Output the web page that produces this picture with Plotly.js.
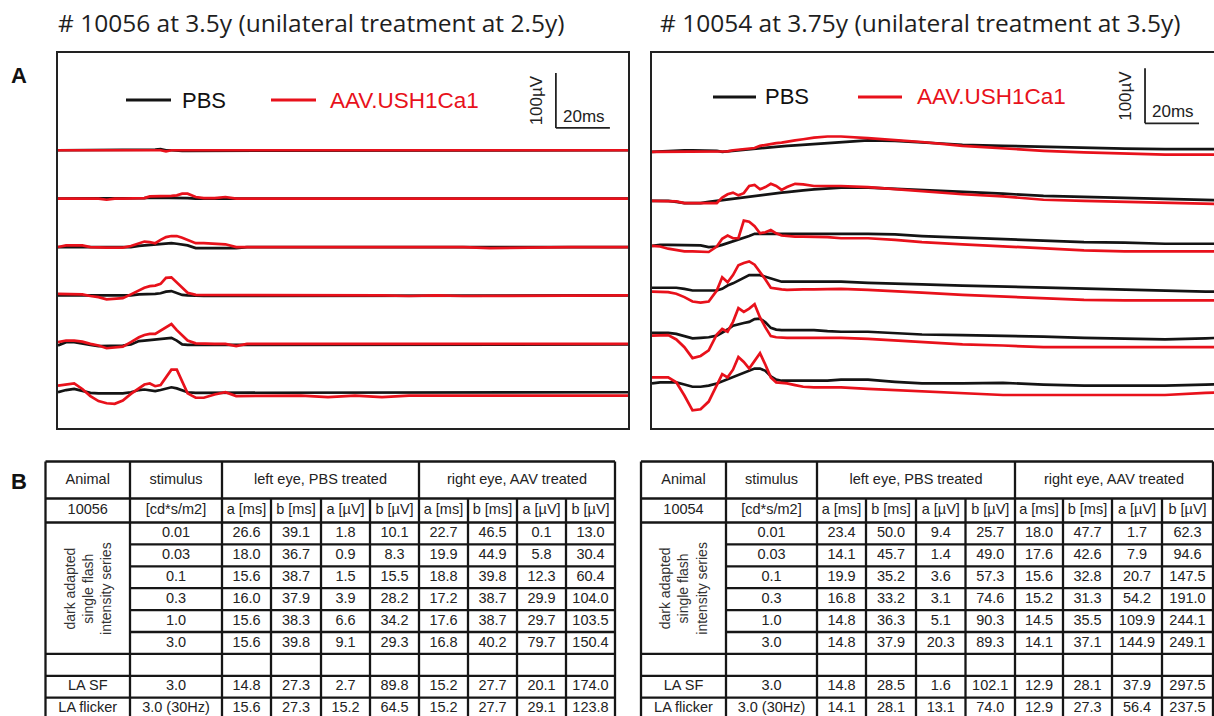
<!DOCTYPE html>
<html><head><meta charset="utf-8">
<script src="https://cdn.plot.ly/plotly-3.0.1.min.js"></script>
<style>html,body{margin:0;padding:0;background:#fff;}#chart{width:1214px;height:716px;}</style>
</head><body><div id="chart"></div>
<script>
// ================= DATA =================
// Time bases (ms after flash)
const tLeft  = [0,3,6,9,12,15,18,21,24,27,30,32,34,36,38,40,42,44,46,48,51,54,58,62,66,70,80,90,100,110,120,130,140,150,160,170,180,190,200,212];
const tRight = [0,3,6,9,12,15,18,21,24,26,28,30,32,34,36,38,40,42,44,46,48,50,53,56,60,65,70,80,90,100,115,130,145,160,175,190,205,220];
const intensities = ['0.01','0.03','0.1','0.3','1.0','3.0'];

// # 10056 ERG deflections (µV) – PBS (left eye) / AAV (right eye)
const a10056_PBS_001 = [0,0,0,0,0,0,0,0,0,0, 0,0,0,1,2,0,0,-1,-1,-1, -1,-1,-1,-1,-1,0,0,0,0,0, -1,0,0,0,-1,-1,0,0,0,0];
const a10056_AAV_001 = [0,0,0,0,0,0,0,0,0,0, 0,0,0,0,0,-2,0,0,0,0, 0,0,0,0,0,0,0,0,0,-1, 0,-1,0,0,0,0,0,0,0,0];
const a10056_PBS_003 = [0,0,0,0,0,0,0,0,0,0, 0,1,2,2,1,1,2,2,2,1, 0,0,0,0,0,0,0,0,-1,-1, -1,-1,-1,-1,-1,-1,0,0,0,0];
const a10056_AAV_003 = [0,0,0,0,0,0,-2,0,0,0, 0,1,4,4,5,5,5,6,9,9, 3,1,1,3,0,0,0,0,-1,-1, -1,-1,-1,-1,-1,-1,0,0,0,0];
const a10056_PBS_01  = [0,0,0,0,0,0,0,0,0,0, 2,3,4,4,5,7,7,6,4,3, -2,-2,-2,-2,-2,0,0,0,0,0, 0,0,0,0,-1,0,0,0,0,0];
const a10056_AAV_01  = [0,3,3,3,0,-1,-1,-1,-1,2, 6,10,9,7,13,18,20,20,17,13, 7,7,6,5,0,0,0,0,0,-1, -1,-1,-1,0,-2,-1,0,0,0,0];
const a10056_PBS_03  = [0,0,0,0,-1,-1,-1,-1,-1,0, 2,2,3,3,4,7,8,5,1,0, -1,-1,-1,-1,-1,0,0,0,0,0, -1,-1,0,0,0,0,0,0,0,0];
const a10056_AAV_03  = [3,3,3,2,-1,-3,-7,-6,-5,2, 10,14,17,18,21,32,33,24,15,5, 1,1,1,0,0,0,0,0,0,0, 0,-1,0,-1,-1,0,0,0,0,0];
const a10056_PBS_1   = [-3,3,3,0,-2,-4,-4,-4,-3,-1, 5,6,7,7,8,10,11,6,-1,-2, -2,-2,-2,-2,-2,-1,-1,-1,-1,-1, -1,-1,-1,-1,-1,-1,-1,-1,-1,-1];
const a10056_AAV_1   = [3,6,6,4,0,-3,-8,-7,-5,3, 12,16,18,18,24,30,36,25,15,6, 1,0,0,0,-4,0,0,0,0,0, 0,0,-1,0,0,0,0,0,0,0];
const a10056_PBS_3   = [0,4,6,2,-1,-2,-2,-2,-2,0, 4,5,4,2,4,7,9,7,3,0, -1,-1,-1,-1,0,0,0,0,0,0, 0,0,0,0,0,0,0,0,0,0];
const a10056_AAV_3   = [12,14,16,6,-7,-16,-20,-21,-15,-3, 8,14,16,11,13,28,41,41,20,-2, -10,-10,-4,0,-7,-7,-6,-6,-9,-6, -9,-6,-6,-6,-6,-6,-6,-6,-6,-6];

// # 10054 ERG deflections (µV)
const a10054_PBS_001 = [0,1,2,3,3,3,3,3,2,0, 1,2,3,4,5,6,7,7,8,9, 10,11,12,13,15,17,18,21,20,17, 13,11,9,7,6,5,5,5];
const a10054_AAV_001 = [0,0,0,0,0,0,0,0,0,0, 1,3,4,4,5,7,11,13,15,16, 17,19,21,23,26,28,28,25,22,18, 11,6,2,-1,-3,-5,-5,-5];
const a10054_PBS_003 = [0,0,0,-2,-4,-4,-4,-2,0,1, 3,4,5,7,8,9,10,11,13,14, 15,16,17,19,21,23,24,24,22,20, 17,13,9,7,5,3,0,0];
const a10054_AAV_003 = [0,0,0,-1,-4,-4,-4,-4,-4,6, 12,15,10,14,27,29,21,25,31,27, 20,25,31,30,27,27,27,25,21,17, 12,8,2,0,-2,-4,-7,-7];
const a10054_PBS_01  = [0,2,2,2,2,2,1,-2,-1,2, 5,8,11,14,18,22,22,23,23,23, 23,22,22,22,22,22,22,22,21,18, 15,12,10,7,6,4,4,4];
const a10054_AAV_01  = [0,-1,-5,-8,-10,-10,-10,-11,-1,13, 19,14,14,46,44,36,23,25,29,23, 19,18,17,17,17,16,14,14,11,7, 3,-1,-5,-8,-10,-10,-10,-10];
const a10054_PBS_03  = [0,0,0,0,-2,-5,-5,-5,-5,-2, 4,8,13,17,23,23,23,20,17,14, 11,11,11,11,11,11,11,9,7,6, 4,2,0,-2,-4,-5,-7,-7];
const a10054_AAV_03  = [-7,-8,-8,-11,-17,-25,-27,-25,-5,19, 10,23,41,45,48,42,29,15,0,-2, -3,-4,-3,-3,-3,-2,-2,-4,-6,-9, -13,-16,-19,-22,-23,-23,-23,-23];
const a10054_PBS_1   = [0,0,0,-2,-6,-10,-9,-8,-5,0, 6,13,16,18,20,25,26,19,9,6, 5,5,5,5,5,3,2,2,-1,-3, -4,-5,-7,-9,-10,-12,-10,-7];
const a10054_AAV_1   = [-5,-4,-4,-12,-26,-46,-42,-32,-3,7, 2,20,45,38,44,52,28,10,-6,-8, -9,-9,-9,-9,-9,-9,-9,-11,-14,-17, -21,-23,-26,-26,-26,-26,-26,-26];
const a10054_PBS_3   = [-3,-1,-1,-1,-5,-9,-9,-7,-3,1, 5,9,13,16,20,24,24,20,10,4, 2,2,2,2,2,2,4,4,0,-3, -3,-2,-5,-7,-7,-7,-5,-4];
const a10054_AAV_3   = [8,8,8,-1,-25,-52,-50,-36,-5,14, 8,22,45,36,24,38,52,31,8,-1, -2,-3,-6,-9,-10,-10,-10,-13,-15,-18, -21,-24,-24,-24,-24,-24,-20,-19];

// Table B
const headerCells = ['Animal','stimulus','left eye, PBS treated','right eye, AAV treated'];
const unitCells   = ['a [ms]','b [ms]','a [µV]','b [µV]'];
const stimulusUnit = '[cd*s/m2]';
const laLabels  = ['LA SF','LA flicker'];
const laStimuli = ['3.0','3.0 (30Hz)'];
const seriesLabel = 'dark adapted<br>single flash<br>intensity series';
const animals = ['10056','10054'];
const t10056_PBS = [[26.6,39.1,1.8,10.1],[18.0,36.7,0.9,8.3],[15.6,38.7,1.5,15.5],[16.0,37.9,3.9,28.2],[15.6,38.3,6.6,34.2],[15.6,39.8,9.1,29.3],[14.8,27.3,2.7,89.8],[15.6,27.3,15.2,64.5]];
const t10056_AAV = [[22.7,46.5,0.1,13.0],[19.9,44.9,5.8,30.4],[18.8,39.8,12.3,60.4],[17.2,38.7,29.9,104.0],[17.6,38.7,29.7,103.5],[16.8,40.2,79.7,150.4],[15.2,27.7,20.1,174.0],[15.2,27.7,29.1,123.8]];
const t10054_PBS = [[23.4,50.0,9.4,25.7],[14.1,45.7,1.4,49.0],[19.9,35.2,3.6,57.3],[16.8,33.2,3.1,74.6],[14.8,36.3,5.1,90.3],[14.8,37.9,20.3,89.3],[14.8,28.5,1.6,102.1],[14.1,28.1,13.1,74.0]];
const t10054_AAV = [[18.0,47.7,1.7,62.3],[17.6,42.6,7.9,94.6],[15.6,32.8,20.7,147.5],[15.2,31.3,54.2,191.0],[14.5,35.5,109.9,244.1],[14.1,37.1,144.9,249.1],[12.9,28.1,37.9,297.5],[12.9,27.3,56.4,237.5]];

const titles = ['# 10056 at 3.5y (unilateral treatment at 2.5y)','# 10054 at 3.75y (unilateral treatment at 3.5y)'];
const legendNames = ['PBS','AAV.USH1Ca1'];

// ================= LAYOUT / STYLE =================
const W=1214, H=716;
const MSPX=2.7, UVPX=0.55;           // px per ms, px per µV
const BLACK='#141414', RED='#e8111b';
const py=v=>1-v/H, px=v=>v/W;
const traces=[], shapes=[], annotations=[];
const line=(xref,yref,x0,y0,x1,y1,color,width)=>shapes.push({type:'line',xref,yref,x0,y0,x1,y1,line:{color,width},layer:'above'});
const note=(o)=>annotations.push(Object.assign({showarrow:false,xanchor:'center',yanchor:'middle'},o));

const panels=[
  {xa:'x', ya:'y', t:tLeft, offsets:[505,417,329,241,153,65],
   pbs:[a10056_PBS_001,a10056_PBS_003,a10056_PBS_01,a10056_PBS_03,a10056_PBS_1,a10056_PBS_3],
   aav:[a10056_AAV_001,a10056_AAV_003,a10056_AAV_01,a10056_AAV_03,a10056_AAV_1,a10056_AAV_3],
   bar:{t:184.4,v:545.5}},
  {xa:'x2', ya:'y2', t:tRight, offsets:[502,413,331,255,173,84],
   pbs:[a10054_PBS_001,a10054_PBS_003,a10054_PBS_01,a10054_PBS_03,a10054_PBS_1,a10054_PBS_3],
   aav:[a10054_AAV_001,a10054_AAV_003,a10054_AAV_01,a10054_AAV_03,a10054_AAV_1,a10054_AAV_3],
   bar:{t:182.6,v:554}}
];
panels.forEach(p=>{
  [[p.pbs,BLACK,legendNames[0]],[p.aav,RED,legendNames[1]]].forEach(([set,col,name])=>{
    set.forEach((vals,i)=>{
      traces.push({type:'scatter',mode:'lines',x:p.t,y:vals.map(v=>v+p.offsets[i]),xaxis:p.xa,yaxis:p.ya,
        name:name+' '+intensities[i],line:{color:col,width:2.7},hoverinfo:'skip',showlegend:false});
    });
  });
  // scale bars 100 µV / 20 ms
  line(p.xa,p.ya,p.bar.t,p.bar.v,p.bar.t,p.bar.v+100,'#222',1.8);
  line(p.xa,p.ya,p.bar.t,p.bar.v,p.bar.t+20,p.bar.v,'#222',1.8);
  note({xref:p.xa,yref:p.ya,x:p.bar.t-19/MSPX,y:p.bar.v+50,text:'100µV',textangle:-90,
    font:{family:'Liberation Sans, Arial',size:17,color:'#222'}});
  note({xref:p.xa,yref:p.ya,x:p.bar.t+10.5,y:p.bar.v+21,text:'20ms',
    font:{family:'Liberation Sans, Arial',size:17,color:'#222'}});
});

// legends (inside panel A boxes)
[{l0:126,l1:171,tx:180,r0:271,r1:316,rx:328,y:100},{l0:713,l1:756,tx:763,r0:858,r1:902,rx:915,y:97}].forEach(g=>{
  line('paper','paper',px(g.l0),py(g.y),px(g.l1),py(g.y),BLACK,3);
  line('paper','paper',px(g.r0),py(g.y),px(g.r1),py(g.y),RED,3);
  note({xref:'paper',yref:'paper',x:px(g.tx),y:py(g.y),xanchor:'left',text:legendNames[0],
    font:{family:'Liberation Sans, Arial',size:22,color:'#111'}});
  note({xref:'paper',yref:'paper',x:px(g.rx),y:py(g.y),xanchor:'left',text:legendNames[1],
    font:{family:'Liberation Sans, Arial',size:22.5,color:RED}});
});

// titles & panel letters
note({xref:'paper',yref:'paper',x:px(311),y:py(22),text:titles[0],font:{family:'Open Sans',size:24.5,color:'#1e1e1e'}});
note({xref:'paper',yref:'paper',x:px(920),y:py(22),text:titles[1],font:{family:'Open Sans',size:24.5,color:'#1e1e1e'}});
note({xref:'paper',yref:'paper',x:px(19),y:py(75),text:'<b>A</b>',font:{family:'Liberation Sans, Arial',size:22,color:'#111'}});
note({xref:'paper',yref:'paper',x:px(19),y:py(481),text:'<b>B</b>',font:{family:'Liberation Sans, Arial',size:22,color:'#111'}});

// ---- tables ----
const rowEdges=[461.5,498.5,522.5,544.4,566.3,588.2,610.1,632,653.9,675.8,697.7,719.6];
const tables=[
  {xa:'x3', cols:[45.5,130,222,271,321,370,419,468,517,566,615], animal:animals[0], pbs:t10056_PBS, aav:t10056_AAV},
  {xa:'x4', cols:[641,726,817,866,916,965.5,1015,1063,1112,1162,1213], animal:animals[1], pbs:t10054_PBS, aav:t10054_AAV}
];
const TFONT={family:'Liberation Sans, Arial',size:14.5,color:'#222'};
tables.forEach(tb=>{
  const c=tb.cols, r=rowEdges, ya='y3';
  const cx=i=>(c[i]+c[i+1])/2, cy=k=>(r[k]+r[k+1])/2;
  const X=[],Y=[],T=[]; const add=(x,y,t)=>{X.push(x);Y.push(y);T.push(t);};
  add(cx(0),cy(0),headerCells[0]); add(cx(1),cy(0),headerCells[1]);
  add((c[2]+c[6])/2,cy(0),headerCells[2]); add((c[6]+c[10])/2,cy(0),headerCells[3]);
  add(cx(0),cy(1),tb.animal); add(cx(1),cy(1),stimulusUnit);
  for(let k=0;k<8;k++) add(cx(2+k),cy(1),unitCells[k%4]);
  const dataRows=[...intensities.map((s,i)=>[2+i,null,s,i]), [9,laLabels[0],laStimuli[0],6],[10,laLabels[1],laStimuli[1],7]];
  dataRows.forEach(([row,lab,stim,di])=>{
    if(lab) add(cx(0),cy(row),lab);
    add(cx(1),cy(row),stim);
    for(let k=0;k<4;k++){ add(cx(2+k),cy(row),tb.pbs[di][k].toFixed(1)); add(cx(6+k),cy(row),tb.aav[di][k].toFixed(1)); }
  });
  traces.push({type:'scatter',mode:'text',x:X,y:Y,text:T,xaxis:tb.xa,yaxis:ya,textposition:'middle center',
    textfont:TFONT,hoverinfo:'skip',showlegend:false,cliponaxis:false});
  note({xref:tb.xa,yref:ya,x:cx(0),y:(r[2]+r[8])/2,text:seriesLabel,textangle:-90,
    font:{family:'Liberation Sans, Arial',size:14,color:'#333'}});
  const lc='#161616', lw=2.3;
  r.forEach((y,k)=>{ const x0=(k>=3&&k<=7)?c[1]:c[0]; line(tb.xa,ya,x0,y,c[10],y,lc,lw); });
  c.forEach((x,i)=>{ const full=[0,1,2,6,10].includes(i); line(tb.xa,ya,x,full?r[0]:r[1],x,r[r.length-1],lc,lw); });
});

const axBase={showgrid:false,zeroline:false,showticklabels:false,ticks:'',fixedrange:true};
const boxAx={...axBase,showline:true,linecolor:'#222',linewidth:2};
const layout={
  width:W,height:H,margin:{l:0,r:0,t:0,b:0},paper_bgcolor:'#fff',plot_bgcolor:'rgba(0,0,0,0)',showlegend:false,
  xaxis:{...boxAx,mirror:true,domain:[px(58),px(628)],range:[0,570/MSPX],anchor:'y'},
  yaxis:{...boxAx,mirror:true,domain:[py(428),py(53)],range:[0,375/UVPX],anchor:'x'},
  xaxis2:{...boxAx,mirror:true,domain:[px(652),1],range:[0,562/MSPX],anchor:'y2'},
  yaxis2:{...boxAx,mirror:false,domain:[py(428),py(53)],range:[0,375/UVPX],anchor:'x2'},
  xaxis3:{...axBase,visible:false,domain:[px(43),px(618)],range:[43,618],anchor:'y3'},
  xaxis4:{...axBase,visible:false,domain:[px(639),1],range:[639,1214],anchor:'y3'},
  yaxis3:{...axBase,visible:false,domain:[0,py(459)],range:[716,459],anchor:'x3'},
  shapes,annotations
};
Plotly.newPlot('chart',traces,layout,{staticPlot:true,displayModeBar:false});
</script></body></html>
